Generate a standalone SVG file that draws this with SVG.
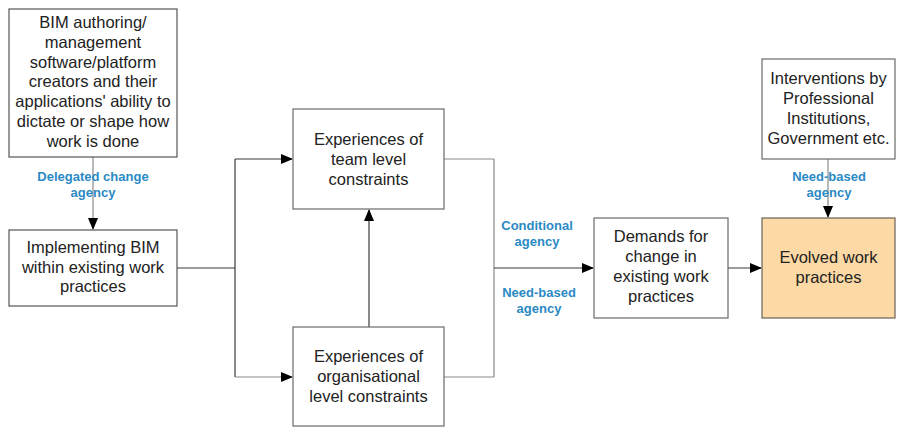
<svg xmlns="http://www.w3.org/2000/svg" width="899" height="434" viewBox="0 0 899 434">
<style>
.box{fill:#fff;stroke:#6a6a6a;stroke-width:1.2}
.t{font-family:"Liberation Sans",Arial,sans-serif;font-size:16.5px;fill:#222;text-anchor:middle}
.l{font-family:"Liberation Sans",Arial,sans-serif;font-size:13px;font-weight:bold;fill:#2b8ac4;text-anchor:middle}
.c{fill:none;stroke:#3a3a3a;stroke-width:1.2}
.g{fill:none;stroke:#8a8a8a;stroke-width:1.2}
</style>
<defs>
<marker id="ah" markerWidth="12" markerHeight="10" refX="11" refY="5" orient="auto" markerUnits="userSpaceOnUse">
<path d="M0,0 L12,5 L0,10 Z" fill="#000"/>
</marker>
</defs>
<rect width="899" height="434" fill="#fff"/>
<g id="connectors">
<path class="g" d="M93,157 V229" marker-end="url(#ah)"/>
<path class="c" d="M177,268 H235"/>
<path class="c" d="M235,159 V377"/>
<path class="c" d="M235,159 H292" marker-end="url(#ah)"/>
<path class="g" d="M235,377 H292" marker-end="url(#ah)"/>
<path class="c" d="M369,327 V210" marker-end="url(#ah)"/>
<path class="g" d="M444,159 H494 V377 H444"/>
<path class="c" d="M494,268 H593" marker-end="url(#ah)"/>
<path class="c" d="M728,268 H761" marker-end="url(#ah)"/>
<path class="g" d="M828,159 V217" marker-end="url(#ah)"/>
<text class="l" x="93" y="181">Delegated change</text>
<text class="l" x="93" y="197">agency</text>
<text class="l" x="537" y="230">Conditional</text>
<text class="l" x="537" y="246">agency</text>
<text class="l" x="539" y="297">Need-based</text>
<text class="l" x="539" y="313">agency</text>
<text class="l" x="829" y="181">Need-based</text>
<text class="l" x="829" y="197">agency</text>
</g>
<g id="bim-software">
<rect class="box" x="9" y="9" width="168" height="148" style="stroke:#555"/>
<text class="t" x="93" y="28">BIM authoring/</text>
<text class="t" x="93" y="47.8">management</text>
<text class="t" x="93" y="67.6">software/platform</text>
<text class="t" x="93" y="87.4">creators and their</text>
<text class="t" x="93" y="107.2">applications' ability to</text>
<text class="t" x="93" y="127">dictate or shape how</text>
<text class="t" x="93" y="146.8">work is done</text>
</g>
<g id="implementing">
<rect class="box" x="9" y="230" width="168" height="76" style="stroke:#555"/>
<text class="t" x="93" y="253">Implementing BIM</text>
<text class="t" x="93" y="272.5">within existing work</text>
<text class="t" x="93" y="292">practices</text>
</g>
<g id="team">
<rect class="box" x="293" y="109" width="151" height="100"/>
<text class="t" x="368.5" y="145">Experiences of</text>
<text class="t" x="368.5" y="165">team level</text>
<text class="t" x="368.5" y="185">constraints</text>
</g>
<g id="org">
<rect class="box" x="293" y="327" width="151" height="99"/>
<text class="t" x="368.5" y="362">Experiences of</text>
<text class="t" x="368.5" y="382">organisational</text>
<text class="t" x="368.5" y="402">level constraints</text>
</g>
<g id="demands">
<rect class="box" x="594" y="218" width="134" height="100"/>
<text class="t" x="661" y="242">Demands for</text>
<text class="t" x="661" y="262">change in</text>
<text class="t" x="661" y="282">existing work</text>
<text class="t" x="661" y="302">practices</text>
</g>
<g id="interventions">
<rect class="box" x="762" y="59" width="133" height="100"/>
<text class="t" x="828.5" y="84">Interventions by</text>
<text class="t" x="828.5" y="104">Professional</text>
<text class="t" x="828.5" y="124">Institutions,</text>
<text class="t" x="828.5" y="144">Government etc.</text>
</g>
<g id="evolved">
<rect class="box" x="762" y="218" width="133" height="100" style="fill:#fdd9a5;stroke:#6b6257"/>
<text class="t" x="828.5" y="263">Evolved work</text>
<text class="t" x="828.5" y="283">practices</text>
</g>
</svg>
